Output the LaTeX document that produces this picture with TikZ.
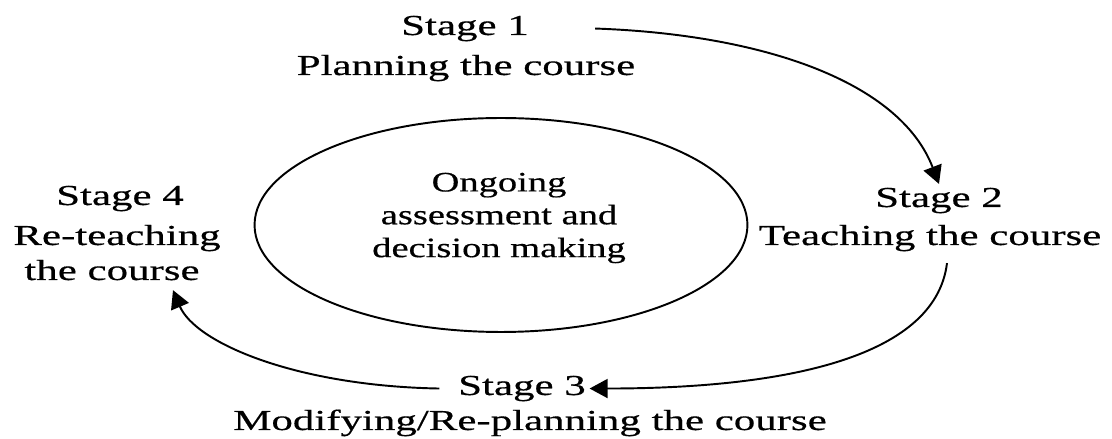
\documentclass[tikz,border=0pt]{standalone}
\usepackage{fontspec}
\setmainfont{Liberation Serif}[FakeStretch=1.48,FakeBold=0.5]
\newfontfamily\ellfont{Liberation Serif}[FakeStretch=1.37,FakeBold=0.5]
\usetikzlibrary{arrows.meta,shapes.geometric}

\begin{document}
\begin{tikzpicture}[x=0.02cm,y=0.02cm]
 \tikzset{arrow/.style={line width=1.1pt,-{Triangle[length=0.36cm,width=0.38cm]}},
   stage/.style={anchor=base,inner sep=2pt,font=\fontsize{16.5}{19}\selectfont}}
 \useasboundingbox (0,0) rectangle (1112,439);
 \node[stage] (s1) at (465,404) {Stage 1};
 \node[stage] (p1) at (466,364) {Planning the course};
 \node[stage] (s2) at (939,232) {Stage 2};
 \node[stage] (t2) at (930,194) {Teaching the course};
 \node[stage] (s3) at (522,44) {Stage 3};
 \node[stage] (m3) at (530,9) {Modifying/Re-planning the course};
 \node[stage] (s4) at (120,234) {Stage 4};
 \node[stage] (r4) at (117,194) {Re-teaching};
 \node[stage] (c4) at (112,159) {the course};

 \node[ellipse,draw,line width=1.1pt,minimum width=9.86cm,minimum height=4.28cm,inner sep=0] (ell) at (501,214) {};
 \node[align=center,font=\ellfont\fontsize{16}{18.7}\selectfont] (mid) at (499,221) {Ongoing\\assessment and\\decision making};

 \draw[arrow] ([xshift=1.25cm]s1.east) to[out=-2,in=111,out distance=3.34cm,in distance=2.2cm] (s2.north);
 \draw[arrow] ([shift={(0.34cm,-0.16cm)}]t2.south) to[out=-97,in=0,out distance=1.96cm,in distance=3.74cm] (s3.east);
 \draw[arrow] ([xshift=-0.3cm]s3.west) to[out=179,in=-67,out distance=2.86cm,in distance=1.15cm] ([shift={(1.22cm,-0.12cm)}]c4.south);
\end{tikzpicture}
\end{document}
